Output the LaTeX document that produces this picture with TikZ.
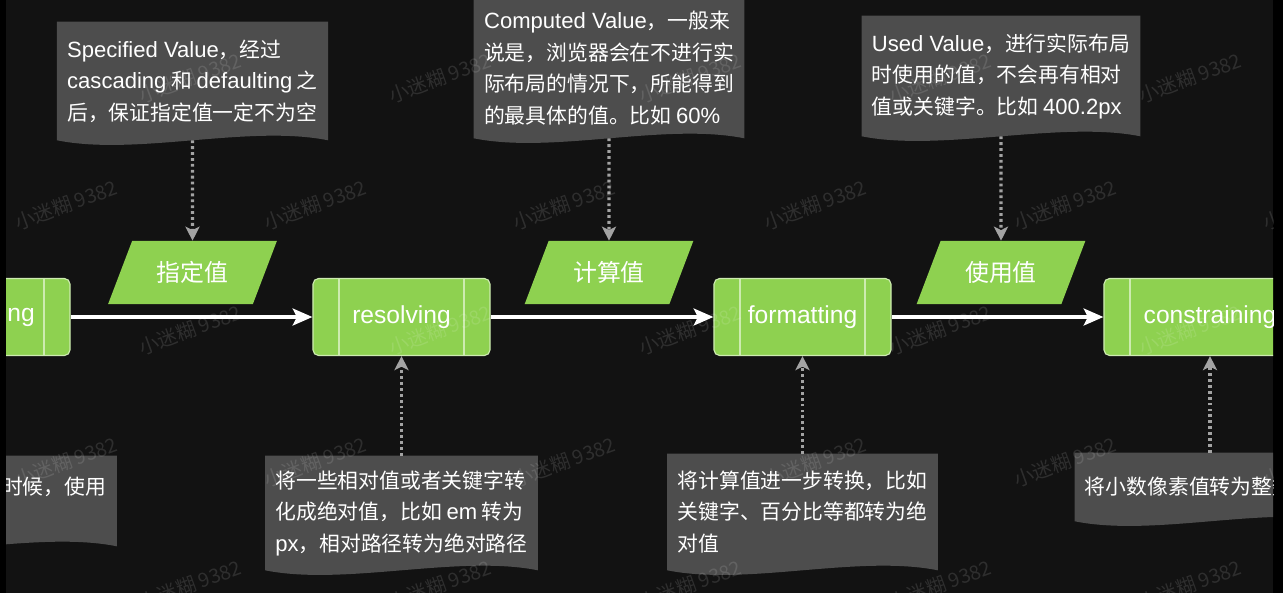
\documentclass[tikz,border=0pt]{standalone}
\usepackage{fontspec}
\setmainfont{Noto Sans CJK SC}
\newfontfamily\latfont[Scale=1.06]{Liberation Sans}
\newcommand\lt[1]{{\latfont #1}}
\usetikzlibrary{positioning,shapes.geometric,arrows.meta,calc,backgrounds}

\definecolor{backdrop}{HTML}{121212}
\definecolor{leaf}{HTML}{8ED150}
\definecolor{leafedge}{HTML}{CDEBB0}
\definecolor{notefill}{HTML}{4D4D4D}
\definecolor{hintgray}{HTML}{A3A3A3}

\pgfdeclarelayer{bottom}
\pgfsetlayers{bottom,background,main}

\begin{document}
\begin{tikzpicture}[
  x=0.025cm, y=-0.025cm,
  stage/.style = {draw=leafedge, line width=0.8pt, fill=leaf, rounded corners=4pt,
                  minimum width=4.425cm, minimum height=1.925cm, text=white,
                  font=\latfont\fontsize{16.5}{20}\selectfont,
                  path picture={\draw[leafedge, line width=0.8pt]
                    ([xshift=0.65cm]path picture bounding box.north west) --
                    ([xshift=0.65cm]path picture bounding box.south west)
                    ([xshift=-0.65cm]path picture bounding box.north east) --
                    ([xshift=-0.65cm]path picture bounding box.south east);}},
  value/.style = {trapezium, trapezium left angle=63, trapezium right angle=117,
                  trapezium stretches=true, fill=leaf, minimum width=4.225cm,
                  minimum height=1.575cm, text=white,
                  font=\fontsize{17}{20}\selectfont},
  note/.style  = {text=white, font=\fontsize{14.8}{22.4}\selectfont,
                  align=left, minimum width=6.75cm,
                  inner xsep=0.25cm, inner ysep=0pt},
  flow/.style  = {-{Stealth[length=14pt,width=12pt,inset=3pt]}, line width=2.6pt, white},
  hint/.style  = {-{Stealth[length=10pt,width=10pt,inset=2.5pt]}, line width=2.3pt,
                  hintgray, dash pattern=on 2pt off 2.2pt},
  wmark/.style = {text=white, opacity=0.12, rotate=20,
                  font=\fontsize{14}{16}\selectfont},
]
\useasboundingbox (0,0) rectangle (1283,593);
\begin{pgfonlayer}{bottom}
  \fill[black] (0,0) rectangle (1283,593);
  \fill[backdrop] (6,0) rectangle (1273,593);
\end{pgfonlayer}

\begin{scope}
\clip (6,0) rectangle (1273,593);

% stages along the pipeline
\node[stage] (deflt) at (-18.5,317) {\hphantom{defaulti}ng};
\node[stage] (reso) at (401.5,317) {resolving};
\node[stage] (form) at (802.5,317) {formatting};
\node[stage, minimum width=5.3cm] (cons) at (1210,317) {constraining};

% values between stages
\node[value] (specv) at (192.5,272.5) {指定值};
\node[value] (compv) at (609,272.5) {计算值};
\node[value] (usedv) at (1001,272.5) {使用值};

% notes above
\node[note, minimum height=2.95cm] (spec) at (192.5,81)
  {\lt{Specified Value}，经过\\\lt{cascading} 和 \lt{defaulting} 之\\后，保证指定值一定不为空};
\node[note, minimum height=3.5cm] (comp) at (609,68)
  {\lt{Computed Value}，一般来\\说是，浏览器会在不进行实\\际布局的情况下，所能得到\\的最具体的值。比如 \lt{60\%}};
\node[note, minimum height=3.0cm] (used) at (1001,76)
  {\lt{Used Value}，进行实际布局\\时使用的值，不会再有相对\\值或关键字。比如 \lt{400.2px}};

% notes below
\node[note, text width=6.25cm, minimum height=2.25cm] (defltnote) at (-18.5,501)
  {\hspace*{7em}时候，使用\\\mbox{}};
\node[note, minimum height=2.85cm] (resonote) at (401.5,513)
  {将一些相对值或者关键字转\\化成绝对值，比如 \lt{em} 转为\\\lt{px}，相对路径转为绝对路径};
\node[note, minimum height=2.9cm] (formnote) at (802.5,512)
  {将计算值进一步转换，比如\\关键字、百分比等都转为绝\\对值};
\node[note, text width=6.25cm, minimum height=1.7cm] (consnote) at (1210,487)
  {将小数像素值转为整数};

% connectors
\draw[flow] (deflt) -- (reso);
\draw[flow] (reso) -- (form);
\draw[flow] (form) -- (cons);
\draw[hint] (spec) -- (specv);
\draw[hint] (comp) -- (compv);
\draw[hint] (used) -- (usedv);
\draw[hint] (resonote.north) -- (reso.south);
\draw[hint] (formnote.north) -- (form.south);
\draw[hint] (consnote.north) -- (cons.south);

% watermark
\foreach \y in {78,330,585}
  \foreach \x [count=\i] in {190,440,690,940,1190}
    \node[wmark] (wa\i-\y) at (\x,\y) {小迷糊 9382};
\foreach \y in {205,462}
  \foreach \x [count=\i] in {66,315,564,815,1065,1314}
    \node[wmark] (wb\i-\y) at (\x,\y) {小迷糊 9382};
\end{scope}

% wavy note backgrounds
\begin{scope}[on background layer]
\clip (6,0) rectangle (1273,593);
\foreach \n in {spec,comp,used,defltnote,resonote,formnote,consnote}
  \fill[notefill] (\n.north west) -- (\n.north east) -- (\n.south east)
    .. controls ([shift={(-80,-16)}]\n.south east) and ([shift={(80,16)}]\n.south west)
    .. (\n.south west) -- cycle;
\end{scope}
\end{tikzpicture}
\end{document}
